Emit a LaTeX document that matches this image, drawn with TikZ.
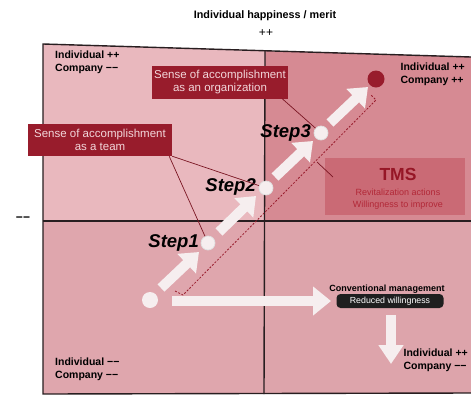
\documentclass[tikz,border=0pt]{standalone}
\usepackage{fontspec}
\setmainfont{Liberation Sans}
\usetikzlibrary{arrows.meta}
\definecolor{qtl}{RGB}{233,184,190}
\definecolor{qtr}{RGB}{214,138,147}
\definecolor{qbl}{RGB}{223,166,173}
\definecolor{qbr}{RGB}{221,164,171}
\definecolor{tmsfill}{RGB}{202,106,117}
\definecolor{darkred}{RGB}{152,28,44}
\definecolor{boxtext}{RGB}{242,214,218}
\definecolor{tmsred}{RGB}{150,22,38}
\definecolor{tmssub}{RGB}{178,40,55}
\definecolor{arrw}{RGB}{246,238,239}
\definecolor{framec}{RGB}{40,30,32}
\tikzset{
  redbox/.style={fill=darkred, text=boxtext, align=center, font=\fontsize{11.5}{13}\selectfont, inner sep=0pt},
  corner/.style={font=\bfseries\fontsize{10.5}{13}\selectfont, align=left, inner sep=0pt},
  steplabel/.style={font=\bfseries\itshape\fontsize{18.5}{20}\selectfont, inner sep=0pt, anchor=east},
  stepdot/.style={circle, fill=arrw, draw=white!75!gray, line width=0.7pt, minimum size=14pt, inner sep=0pt},
  fatarrow/.style={draw=arrw, line width=10pt, -{Triangle[width=26pt,length=17pt]}},
  leader/.style={draw=darkred!80!black, line width=0.7pt},
  frameline/.style={draw=framec, line width=1.4pt}
}
\begin{document}
\begin{tikzpicture}[x=1pt,y=-1pt]
\useasboundingbox (0,0) rectangle (471,405);
\fill[white] (0,0) rectangle (471,405);
% quadrants
\fill[qtl] (43,44) -- (265,51) -- (265,221) -- (43,221) -- cycle;
\fill[qtr] (265,51) -- (471,57) -- (471,221) -- (265,221) -- cycle;
\fill[qbl] (43,221) rectangle (264,394);
\fill[qbr] (264,221) rectangle (471,393);
% TMS box
\node[fill=tmsfill, minimum width=140pt, minimum height=57pt, inner sep=0pt] (tms) at (395,186.5) {};
% frame
\draw[frameline] (471,57) -- (43,44) -- (43,394) -- (471,393);
\draw[frameline] (265,51) -- (264,394);
\draw[frameline] (43,221) -- (471,221);
% axis labels
\node[font=\bfseries\fontsize{10.8}{12}\selectfont, inner sep=0pt] (ttl) at (265,16) {Individual happiness / merit};
\node[font=\fontsize{12}{13}\selectfont, inner sep=0pt] (pp) at (266,33) {++};
\node[font=\bfseries\fontsize{12}{13}\selectfont, inner sep=0pt] (mm) at (23,219) {−−};
% corner labels
\node[corner, anchor=north west] (c1) at (55,51) {Individual ++\\[0pt]Company −−};
\node[corner, anchor=north east] (c2) at (465,63) {Individual ++\\[0pt]Company ++};
\node[corner, anchor=north west] (c3) at (55,358) {Individual −−\\[0pt]Company −−};
\node[corner, anchor=north east] (c4) at (468,349) {Individual ++\\[0pt]Company −−};
% dashed outline
\coordinate (da) at (175,291);
\coordinate (db) at (183,295);
\coordinate (dc) at (376,100);
\coordinate (dd) at (371,95);
\draw[darkred, line width=0.8pt, dash pattern=on 2pt off 1.6pt] (da) -- (db) -- (dc) -- (dd);
\coordinate (dt) at (317,162);
\coordinate (tl) at (333,177);
\draw[leader] (dt) -- (tl);
% dots
\node[circle, fill=arrw, minimum size=16pt, inner sep=0pt] (s0) at (150,300) {};
\node[stepdot] (s1) at (208,243) {};
\node[stepdot] (s2) at (266,188) {};
\node[stepdot] (s3) at (321,133) {};
\node[circle, fill=darkred, minimum size=17pt, inner sep=0pt] (s4) at (376,79) {};
% arrows
\coordinate (a1s) at (161,288); \coordinate (a1e) at (199,252);
\coordinate (a2s) at (219,232); \coordinate (a2e) at (256,196);
\coordinate (a3s) at (275,177); \coordinate (a3e) at (313,141);
\coordinate (a4s) at (330,123); \coordinate (a4e) at (368,87);
\draw[fatarrow] (a1s) -- (a1e);
\draw[fatarrow] (a2s) -- (a2e);
\draw[fatarrow] (a3s) -- (a3e);
\draw[fatarrow] (a4s) -- (a4e);
\coordinate (hs) at (172,301); \coordinate (he) at (331,301);
\draw[draw=arrw, line width=10pt, -{Triangle[width=28pt,length=18pt]}] (hs) -- (he);
\coordinate (vs) at (391,315); \coordinate (ve) at (391,364);
\draw[draw=arrw, line width=10pt, -{Triangle[width=24pt,length=19pt]}] (vs) -- (ve);
% step labels
\node[steplabel] (l1) at (199,243) {Step1};
\node[steplabel] (l2) at (256,187) {Step2};
\node[steplabel] (l3) at (311,133) {Step3};
% red boxes
\node[redbox, minimum width=144pt, minimum height=32pt] (team) at (100,140) {Sense of accomplishment\\as a team};
\node[redbox, minimum width=136pt, minimum height=33pt] (org) at (220,82) {Sense of accomplishment\\as an organization};
\draw[leader] (team.south east) -- (s2);
\draw[leader] ([xshift=-3pt]team.south east) -- (s1);
\draw[leader] ([xshift=-6pt]org.south east) -- (s3);
% TMS texts
\node[font=\bfseries\fontsize{17.5}{19}\selectfont, text=tmsred, inner sep=0pt] (tmst) at (398,174) {TMS};
\node[font=\fontsize{9}{12}\selectfont, text=tmssub, align=center, inner sep=0pt] (tmss) at (398,199) {Revitalization actions\\Willingness to improve};
% conventional management
\node[font=\bfseries\fontsize{9}{10}\selectfont, inner sep=0pt] (cm) at (387,289) {Conventional management};
\node[fill=black!88, text=white, rounded corners=4pt, minimum width=107pt, minimum height=14pt, inner sep=0pt, font=\fontsize{8.8}{10}\selectfont] (rw) at (390,301) {Reduced willingness};
\end{tikzpicture}
\end{document}
